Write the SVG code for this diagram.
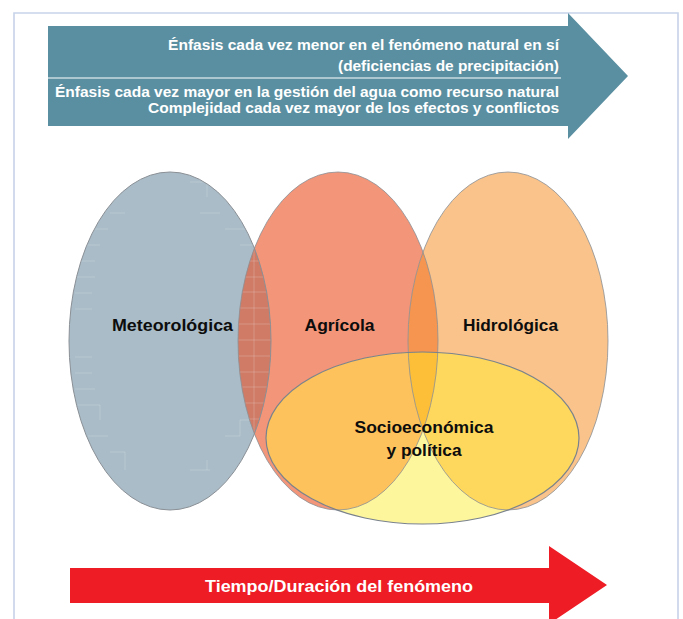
<svg xmlns="http://www.w3.org/2000/svg" width="683" height="619" viewBox="0 0 683 619">
<style>
.frame{fill:none;stroke:#c7d3ea;stroke-width:1.6}
.atxt{font-family:"Liberation Sans",Arial,sans-serif;font-weight:bold;fill:#ffffff}
.lbl{font-family:"Liberation Sans",Arial,sans-serif;font-weight:bold;font-size:17px;fill:#0d0d0d;text-anchor:middle}
.edge{fill:none;stroke:#8b9096;stroke-width:1}
.edge2{fill:none;stroke:#7a828c;stroke-width:1.2}
.tick{stroke:#ffffff;stroke-opacity:0.25;stroke-width:0.8;fill:none}
</style>
<defs>
<clipPath id="c1"><ellipse cx="170" cy="341" rx="101" ry="169"/></clipPath>
<clipPath id="c2"><ellipse cx="338" cy="341" rx="100" ry="169"/></clipPath>
<clipPath id="c3"><ellipse cx="508" cy="341" rx="100" ry="169"/></clipPath>
</defs>
<rect width="683" height="619" fill="#ffffff"/>
<path class="frame" d="M14,619 V13 H678 V619"/>

<g id="arrow-top">
<polygon points="48,26 568,26 568,13 628,76 568,139 568,126 48,126" fill="#5a8fa1"/>
<line x1="48" y1="78" x2="561" y2="78" stroke="#ffffff" stroke-width="1.2"/>
<text class="atxt" x="168" y="50" font-size="15" textLength="391" lengthAdjust="spacingAndGlyphs">Énfasis cada vez menor en el fenómeno natural en sí</text>
<text class="atxt" x="338" y="71" font-size="15" textLength="221" lengthAdjust="spacingAndGlyphs">(deficiencias de precipitación)</text>
<text class="atxt" x="55" y="97" font-size="15" textLength="504" lengthAdjust="spacingAndGlyphs">Énfasis cada vez mayor en la gestión del agua como recurso natural</text>
<text class="atxt" x="148" y="113" font-size="15" textLength="411" lengthAdjust="spacingAndGlyphs">Complejidad cada vez mayor de los efectos y conflictos</text>
</g>

<g id="node-meteorologica">
<ellipse cx="170" cy="341" rx="101" ry="169" fill="#a9bcc7"/>
<g class="tick">
<path d="M190,182 H207 M230,197 H250 M110,213 H125 M200,213 H220 M88,229 H108 M225,229 H245 M80,245 H100 M240,245 H258 M75,261 H95 M75,277 H95 M75,293 H92 M75,309 H92 M75,357 H92 M75,373 H92 M75,389 H95 M78,405 H100 M240,420 H255 M88,436 H108 M225,436 H240 M110,452 H125 M190,470 H210"/>
<path d="M207,182 V197 M100,405 V420 M240,420 V436 M125,452 V470 M207,460 V470"/>
</g>
</g>

<g id="node-agricola">
<ellipse cx="338" cy="341" rx="100" ry="169" fill="#f39578"/>
</g>

<g id="node-hidrologica">
<ellipse cx="508" cy="341" rx="100" ry="169" fill="#f9c38b"/>
</g>

<g id="overlaps-top">
<g clip-path="url(#c1)">
<ellipse cx="338" cy="341" rx="100" ry="169" fill="#cf7b66"/>
<g clip-path="url(#c2)" class="tick">
<path d="M254,240 V450 M230,261 H280 M230,277 H280 M230,292 H280 M230,308 H280 M230,324 H280 M230,340 H280 M230,356 H280 M230,372 H280 M230,387 H280 M230,403 H280 M230,419 H280"/>
</g>
</g>
<g clip-path="url(#c2)">
<ellipse cx="508" cy="341" rx="100" ry="169" fill="#f5954f"/>
</g>
</g>

<g id="node-socioeconomica">
<ellipse cx="422.5" cy="438" rx="156.5" ry="86" fill="#fef69d"/>
<g clip-path="url(#c2)">
<ellipse cx="422.5" cy="438" rx="156.5" ry="86" fill="#fdc25b"/>
</g>
<g clip-path="url(#c3)">
<ellipse cx="422.5" cy="438" rx="156.5" ry="86" fill="#fed75d"/>
</g>
<g clip-path="url(#c2)">
<ellipse cx="422.5" cy="438" rx="156.5" ry="86" fill="#fdbf38" clip-path="url(#c3)"/>
</g>
</g>

<g id="outlines">
<ellipse class="edge" cx="170" cy="341" rx="101" ry="169"/>
<ellipse class="edge" cx="338" cy="341" rx="100" ry="169" stroke-opacity="0.8"/>
<ellipse class="edge" cx="508" cy="341" rx="100" ry="169" stroke-opacity="0.8"/>
<ellipse class="edge2" cx="422.5" cy="438" rx="156.5" ry="86"/>
</g>

<g id="labels">
<text class="lbl" x="172.5" y="331" textLength="121" lengthAdjust="spacingAndGlyphs">Meteorológica</text>
<text class="lbl" x="339.5" y="331" textLength="70" lengthAdjust="spacingAndGlyphs">Agrícola</text>
<text class="lbl" x="510.5" y="331" textLength="95" lengthAdjust="spacingAndGlyphs">Hidrológica</text>
<text class="lbl" x="424" y="433" textLength="139" lengthAdjust="spacingAndGlyphs">Socioeconómica</text>
<text class="lbl" x="424" y="455.5" textLength="75" lengthAdjust="spacingAndGlyphs">y política</text>
</g>

<g id="arrow-bottom">
<polygon points="70,568 549,568 549,546 607,585 549,624 549,603 70,603" fill="#ee1c25"/>
<text class="atxt" x="339" y="591.5" font-size="17" text-anchor="middle" textLength="268" lengthAdjust="spacingAndGlyphs">Tiempo/Duración del fenómeno</text>
</g>
</svg>
